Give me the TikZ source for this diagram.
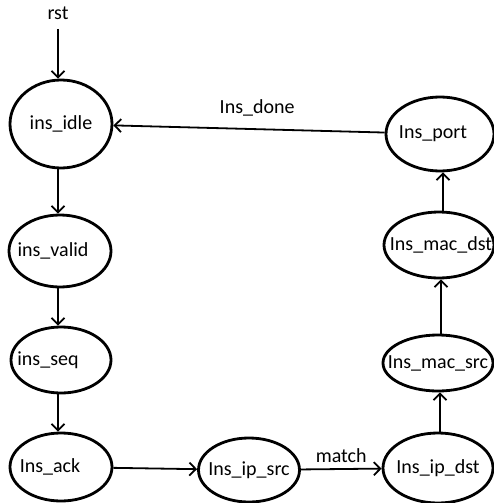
\documentclass[tikz,border=0pt]{standalone}
\usepackage{fontspec}
\setmainfont{Carlito}
\usetikzlibrary{shapes.geometric,arrows.meta}
\begin{document}
\begin{tikzpicture}[x=1pt,y=-1pt,
  state/.style={ellipse,draw,line width=2.8pt,inner sep=0pt,minimum width=#1},
  lbl/.style={font=\fontsize{20}{22}\selectfont},
  arr/.style={line width=1.8pt,-{Straight Barb[length=6.5pt,width=13pt,line width=1.8pt]}}]
\useasboundingbox (0,0) rectangle (494,503);
\node[lbl] (rst) at (58,13) {rst};
\node[state=102pt,minimum height=88pt,label={[lbl]center:ins\_idle}] (idle) at (61,124) {};
\node[state=102pt,minimum height=72pt,label={[lbl,xshift=-7pt]center:ins\_valid}] (valid) at (60,251) {};
\node[state=100pt,minimum height=66pt,label={[lbl,xshift=-13pt]center:ins\_seq}] (seq) at (61,360) {};
\node[state=102pt,minimum height=68pt,label={[lbl,xshift=-11pt]center:Ins\_ack}] (ack) at (61,467) {};
\node[state=101pt,minimum height=64pt,label={[lbl]center:Ins\_ip\_src}] (ipsrc) at (249,470) {};
\node[state=110pt,minimum height=70pt,label={[lbl]center:Ins\_ip\_dst}] (ipdst) at (438,468) {};
\node[state=110pt,minimum height=56pt,label={[lbl]center:Ins\_mac\_src}] (macsrc) at (438,363) {};
\node[state=110pt,minimum height=66pt,label={[lbl,xshift=2pt]center:Ins\_mac\_dst}] (macdst) at (439,245) {};
\node[state=108pt,minimum height=74pt,label={[lbl,xshift=-7pt]center:Ins\_port}] (port) at (440,134) {};
\draw[arr] (rst.south) ++(0,6) coordinate (a0) -- (a0 |- idle.north);
\draw[arr] (idle.south) ++(-3pt,0) coordinate (a1) -- (a1 |- valid.north);
\draw[arr] (valid.south) ++(-2pt,0) coordinate (a6) -- (a6 |- seq.north);
\draw[arr] (seq.south) ++(-3pt,0) coordinate (a2) -- (a2 |- ack.north);
\draw[arr] (ack) -- (ipsrc);
\draw[arr] (ipsrc) -- node[lbl,above=2pt] {match} (ipdst);
\draw[arr] (ipdst.north) ++(2pt,0) coordinate (a3) -- (a3 |- macsrc.south);
\draw[arr] (macsrc.north) ++(3pt,0) coordinate (a4) -- (a4 |- macdst.south);
\draw[arr] (macdst.north) ++(4pt,0) coordinate (a5) -- (a5 |- port.south);
\draw[arr] (port) -- node[lbl,above=9pt,pos=0.47] {Ins\_done} (idle);
\end{tikzpicture}
\end{document}
